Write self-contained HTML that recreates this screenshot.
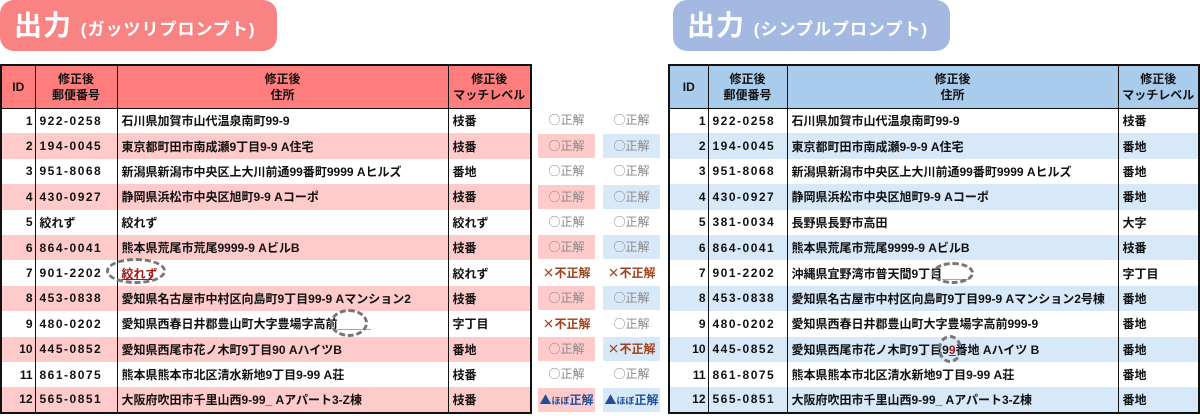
<!DOCTYPE html>
<html><head><meta charset="utf-8"><style>
*{margin:0;padding:0;box-sizing:border-box}
body{width:1200px;height:416px;background:#fff;position:relative;overflow:hidden;font-family:"Liberation Sans","Noto Sans CJK JP",sans-serif;font-weight:bold;font-size:12px;color:#111}
.pill{position:absolute;top:0;height:51px;border-radius:14px;color:#fff;font-size:28px;line-height:51px;padding-left:14px;letter-spacing:1px}
.pill small{font-size:17px;letter-spacing:1px}
table{position:absolute;top:64px;border-collapse:collapse;table-layout:fixed;border:2px solid #111}
td{height:25.4px;padding:0 4px;white-space:nowrap;border-left:1.5px solid #111;border-right:1.5px solid #111;overflow:visible}
th{height:43px;font-size:12px;line-height:16px;border:1.5px solid #111;font-weight:bold}
td.id{text-align:right;padding-right:2px}
td.zip{letter-spacing:1.5px}
.res{position:absolute;width:57px;height:24px;line-height:24px;text-align:center;font-size:12px;color:#888;font-family:"Noto Sans CJK JP",sans-serif;font-weight:normal}
.ng{color:#a0401a;font-weight:bold}.mid{color:#1f4f9a;font-weight:bold}
.ell{position:absolute;border:3px dashed #777;border-radius:50%}
.red{color:#a01818;text-decoration:underline}
</style></head><body>
<div class="pill" style="left:0;width:277px;background:#f98282">出力 <small>(ガッツリプロンプト)</small></div>
<div class="pill" style="left:673px;width:277px;background:#a3b9e1">出力 <small>(シンプルプロンプト)</small></div>

<table style="left:0;width:530px">
<colgroup><col style="width:34px"><col style="width:82px"><col style="width:331px"><col style="width:83px"></colgroup>
<tr style="background:#ff7d7d"><th>ID</th><th>修正後<br>郵便番号</th><th>修正後<br>住所</th><th>修正後<br>マッチレベル</th></tr>
<tr><td class="id">1</td><td class="zip">922-0258</td><td>石川県加賀市山代温泉南町99-9</td><td>枝番</td></tr>
<tr style="background:#ffcaca"><td class="id">2</td><td class="zip">194-0045</td><td>東京都町田市南成瀬9丁目9-9 A住宅</td><td>枝番</td></tr>
<tr><td class="id">3</td><td class="zip">951-8068</td><td>新潟県新潟市中央区上大川前通99番町9999 Aヒルズ</td><td>番地</td></tr>
<tr style="background:#ffcaca"><td class="id">4</td><td class="zip">430-0927</td><td>静岡県浜松市中央区旭町9-9 Aコーポ</td><td>枝番</td></tr>
<tr><td class="id">5</td><td>絞れず</td><td>絞れず</td><td>絞れず</td></tr>
<tr style="background:#ffcaca"><td class="id">6</td><td class="zip">864-0041</td><td>熊本県荒尾市荒尾9999-9 AビルB</td><td>枝番</td></tr>
<tr><td class="id">7</td><td class="zip">901-2202</td><td><span class="red">絞れず</span></td><td>絞れず</td></tr>
<tr style="background:#ffcaca"><td class="id">8</td><td class="zip">453-0838</td><td>愛知県名古屋市中村区向島町9丁目99-9 Aマンション2</td><td>枝番</td></tr>
<tr><td class="id">9</td><td class="zip">480-0202</td><td>愛知県西春日井郡豊山町大字豊場字高前<span style="color:#a01818">_____</span></td><td>字丁目</td></tr>
<tr style="background:#ffcaca"><td class="id">10</td><td class="zip">445-0852</td><td>愛知県西尾市花ノ木町9丁目90 AハイツB</td><td>番地</td></tr>
<tr><td class="id">11</td><td class="zip">861-8075</td><td>熊本県熊本市北区清水新地9丁目9-99 A荘</td><td>枝番</td></tr>
<tr style="background:#ffcaca"><td class="id">12</td><td class="zip">565-0851</td><td>大阪府吹田市千里山西9-99_ Aアパート3-Z棟</td><td>枝番</td></tr>
</table>

<table style="left:668px;width:530px">
<colgroup><col style="width:39px"><col style="width:79px"><col style="width:331px"><col style="width:81px"></colgroup>
<tr style="background:#a9cbec"><th>ID</th><th>修正後<br>郵便番号</th><th>修正後<br>住所</th><th>修正後<br>マッチレベル</th></tr>
<tr><td class="id">1</td><td class="zip">922-0258</td><td>石川県加賀市山代温泉南町99-9</td><td>枝番</td></tr>
<tr style="background:#d7e8f8"><td class="id">2</td><td class="zip">194-0045</td><td>東京都町田市南成瀬9-9-9 A住宅</td><td>番地</td></tr>
<tr><td class="id">3</td><td class="zip">951-8068</td><td>新潟県新潟市中央区上大川前通99番町9999 Aヒルズ</td><td>番地</td></tr>
<tr style="background:#d7e8f8"><td class="id">4</td><td class="zip">430-0927</td><td>静岡県浜松市中央区旭町9-9 Aコーポ</td><td>番地</td></tr>
<tr><td class="id">5</td><td class="zip">381-0034</td><td>長野県長野市高田</td><td>大字</td></tr>
<tr style="background:#d7e8f8"><td class="id">6</td><td class="zip">864-0041</td><td>熊本県荒尾市荒尾9999-9 AビルB</td><td>枝番</td></tr>
<tr><td class="id">7</td><td class="zip">901-2202</td><td>沖縄県宜野湾市普天間9丁目<span style="color:#a01818">____</span></td><td>字丁目</td></tr>
<tr style="background:#d7e8f8"><td class="id">8</td><td class="zip">453-0838</td><td>愛知県名古屋市中村区向島町9丁目99-9 Aマンション2号棟</td><td>番地</td></tr>
<tr><td class="id">9</td><td class="zip">480-0202</td><td>愛知県西春日井郡豊山町大字豊場字高前999-9</td><td>番地</td></tr>
<tr style="background:#d7e8f8"><td class="id">10</td><td class="zip">445-0852</td><td>愛知県西尾市花ノ木町9丁目9<span class="red">9</span>番地 Aハイツ B</td><td>番地</td></tr>
<tr><td class="id">11</td><td class="zip">861-8075</td><td>熊本県熊本市北区清水新地9丁目9-99 A荘</td><td>番地</td></tr>
<tr style="background:#d7e8f8"><td class="id">12</td><td class="zip">565-0851</td><td>大阪府吹田市千里山西9-99_ Aアパート3-Z棟</td><td>番地</td></tr>
</table>

<div class="res" style="left:538px;top:108px">○正解</div><div class="res" style="left:603px;top:108px">○正解</div>
<div class="res" style="left:538px;top:134px;background:#ffcaca">○正解</div><div class="res" style="left:603px;top:134px;background:#d7e8f8">○正解</div>
<div class="res" style="left:538px;top:159px">○正解</div><div class="res" style="left:603px;top:159px">○正解</div>
<div class="res" style="left:538px;top:185px;background:#ffcaca">○正解</div><div class="res" style="left:603px;top:185px;background:#d7e8f8">○正解</div>
<div class="res" style="left:538px;top:210px">○正解</div><div class="res" style="left:603px;top:210px">○正解</div>
<div class="res" style="left:538px;top:235px;background:#ffcaca">○正解</div><div class="res" style="left:603px;top:235px;background:#d7e8f8">○正解</div>
<div class="res ng" style="left:538px;top:261px">×不正解</div><div class="res ng" style="left:603px;top:261px">×不正解</div>
<div class="res" style="left:538px;top:286px;background:#ffcaca">○正解</div><div class="res" style="left:603px;top:286px;background:#d7e8f8">○正解</div>
<div class="res ng" style="left:538px;top:312px">×不正解</div><div class="res" style="left:603px;top:312px">○正解</div>
<div class="res" style="left:538px;top:337px;background:#ffcaca">○正解</div><div class="res ng" style="left:603px;top:337px;background:#d7e8f8">×不正解</div>
<div class="res" style="left:538px;top:362px">○正解</div><div class="res" style="left:603px;top:362px">○正解</div>
<div class="res mid" style="left:538px;top:388px;background:#ffcaca">▲<span style="font-size:9px">ほぼ</span>正解</div><div class="res mid" style="left:603px;top:388px;background:#d7e8f8">▲<span style="font-size:9px">ほぼ</span>正解</div>

<div class="ell" style="left:106px;top:258px;width:60px;height:26px"></div>
<div class="ell" style="left:330px;top:309px;width:38px;height:28px"></div>
<div class="ell" style="left:932px;top:262px;width:42px;height:22px"></div>
<div class="ell" style="left:938px;top:335px;width:24px;height:28px"></div>
</body></html>
